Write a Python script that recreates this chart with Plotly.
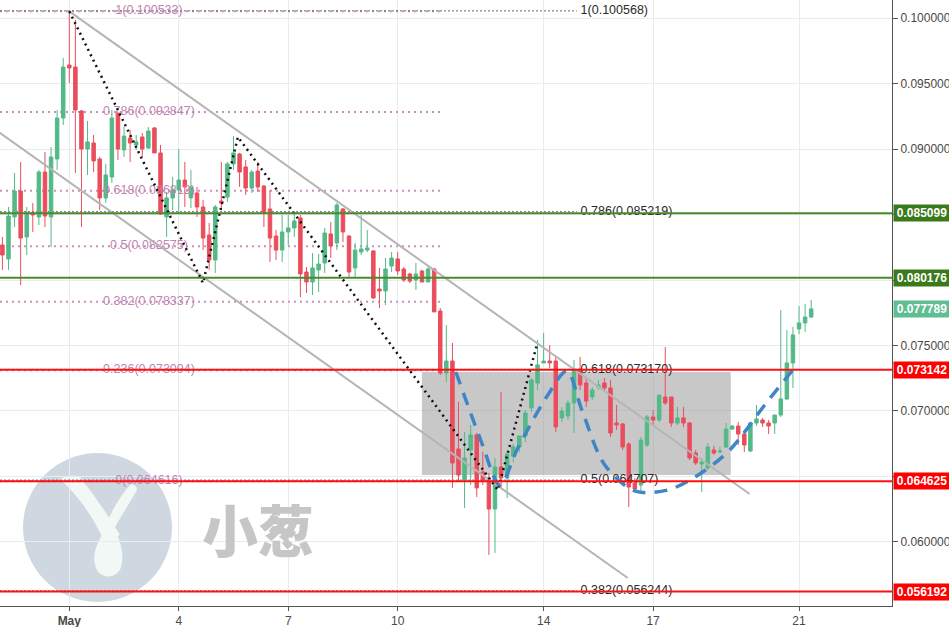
import plotly.graph_objects as go
import pandas as pd

# ---------------- candle data (4h candles) ----------------
first_candle = "2018-04-29 04:00"
opens = [0.08268, 0.08161, 0.08482, 0.08680, 0.08329, 0.08512, 0.08482, 0.08825, 0.08482, 0.08925,
         0.09238, 0.09643, 0.09628, 0.09292, 0.09001, 0.09047, 0.08925, 0.08627, 0.08787, 0.09276,
         0.08994, 0.09085, 0.09032, 0.09093, 0.09009, 0.09162, 0.08971, 0.08482, 0.08627, 0.08688,
         0.08764, 0.08627, 0.08665, 0.08558, 0.08344, 0.08153, 0.08604, 0.08634, 0.08887, 0.08963,
         0.08864, 0.08703, 0.08833, 0.08718, 0.08543, 0.08336, 0.08229, 0.08367, 0.08398, 0.08474,
         0.08061, 0.07985, 0.08077, 0.08130, 0.08352, 0.08283, 0.08543, 0.08336, 0.08092, 0.08214,
         0.08229, 0.08222, 0.07931, 0.07916, 0.08107, 0.08161, 0.08084, 0.08046, 0.08000, 0.08069,
         0.07985, 0.08084, 0.07763, 0.07289, 0.07381, 0.06709, 0.06472, 0.06701, 0.06816, 0.06533,
         0.06487, 0.06250, 0.06571, 0.06487, 0.06655, 0.06724, 0.06808, 0.07022, 0.07213, 0.07366,
         0.07381, 0.07381, 0.06946, 0.06961, 0.07060, 0.07320, 0.07213, 0.07106, 0.07182, 0.07213,
         0.07175, 0.06907, 0.06900, 0.06747, 0.06449, 0.06433, 0.06739, 0.06953, 0.06930, 0.07106,
         0.07106, 0.06907, 0.06946, 0.06907, 0.06678, 0.06594, 0.06563, 0.06701, 0.06686, 0.06724,
         0.06861, 0.06884, 0.06823, 0.06693, 0.06907, 0.06930, 0.06907, 0.06907, 0.06968, 0.07091,
         0.07366, 0.07626, 0.07672, 0.07717]
highs = [0.08329, 0.08558, 0.08818, 0.08902, 0.08558, 0.08589, 0.08841, 0.08978, 0.09016, 0.09299,
         0.09697, 0.10053, 0.09987, 0.09299, 0.09215, 0.09108, 0.08940, 0.08887, 0.09299, 0.09276,
         0.09169, 0.09146, 0.09108, 0.09123, 0.09169, 0.09169, 0.09032, 0.08673, 0.08787, 0.09001,
         0.08902, 0.08841, 0.08711, 0.08611, 0.08436, 0.08573, 0.08902, 0.08902, 0.09100, 0.08971,
         0.08917, 0.08841, 0.08902, 0.08726, 0.08688, 0.08382, 0.08497, 0.08497, 0.08512, 0.08497,
         0.08099, 0.08206, 0.08199, 0.08398, 0.08443, 0.08589, 0.08550, 0.08344, 0.08283, 0.08497,
         0.08382, 0.08229, 0.08092, 0.08168, 0.08214, 0.08214, 0.08099, 0.08054, 0.08130, 0.08077,
         0.08099, 0.08092, 0.07786, 0.07656, 0.07519, 0.07068, 0.06838, 0.06892, 0.06831, 0.06686,
         0.06525, 0.06640, 0.07144, 0.06686, 0.06747, 0.06808, 0.07007, 0.07251, 0.07542, 0.07595,
         0.07503, 0.07412, 0.07030, 0.07083, 0.07389, 0.07412, 0.07259, 0.07182, 0.07236, 0.07251,
         0.07236, 0.07045, 0.06907, 0.06762, 0.06487, 0.06800, 0.06968, 0.07007, 0.07121, 0.07488,
         0.07106, 0.07030, 0.07030, 0.06915, 0.06701, 0.06640, 0.06754, 0.06731, 0.06724, 0.06907,
         0.06892, 0.06915, 0.06838, 0.06915, 0.07045, 0.06946, 0.06930, 0.06968, 0.07771, 0.07618,
         0.07641, 0.07801, 0.07817, 0.07847]
lows = [0.08077, 0.08077, 0.08405, 0.07962, 0.08191, 0.08367, 0.08420, 0.08405, 0.08252, 0.08841,
        0.09185, 0.09506, 0.08818, 0.08405, 0.08803, 0.08825, 0.08535, 0.08589, 0.08741, 0.08917,
        0.08940, 0.08902, 0.08994, 0.08940, 0.09001, 0.08971, 0.08497, 0.08329, 0.08535, 0.08512,
        0.08558, 0.08550, 0.08482, 0.08229, 0.08077, 0.08054, 0.08535, 0.08596, 0.08841, 0.08711,
        0.08650, 0.08665, 0.08673, 0.08405, 0.08138, 0.08153, 0.08138, 0.08268, 0.08329, 0.07870,
        0.07901, 0.07885, 0.07908, 0.08054, 0.08168, 0.08229, 0.08290, 0.08023, 0.08015, 0.08191,
        0.08214, 0.07855, 0.07786, 0.07809, 0.08061, 0.08038, 0.07985, 0.07977, 0.07924, 0.07985,
        0.07985, 0.07756, 0.07274, 0.07221, 0.06411, 0.06456, 0.06258, 0.06433, 0.06342, 0.06433,
        0.05899, 0.05914, 0.06411, 0.06334, 0.06609, 0.06686, 0.06762, 0.06991, 0.07159, 0.07366,
        0.07328, 0.06838, 0.06915, 0.06930, 0.06831, 0.07159, 0.07030, 0.07083, 0.07159, 0.07144,
        0.06800, 0.06854, 0.06701, 0.06265, 0.06395, 0.06380, 0.06724, 0.06892, 0.06915, 0.07045,
        0.06877, 0.06892, 0.06877, 0.06625, 0.06586, 0.06380, 0.06548, 0.06663, 0.06678, 0.06716,
        0.06854, 0.06739, 0.06686, 0.06686, 0.06884, 0.06877, 0.06823, 0.06823, 0.06953, 0.07083,
        0.07175, 0.07587, 0.07603, 0.07710]
closes = [0.08191, 0.08489, 0.08680, 0.08321, 0.08512, 0.08497, 0.08825, 0.08489, 0.08940, 0.09238,
          0.09628, 0.09620, 0.09299, 0.09001, 0.09055, 0.08910, 0.08627, 0.08803, 0.09238, 0.09001,
          0.09100, 0.09047, 0.09055, 0.09001, 0.09139, 0.08971, 0.08504, 0.08627, 0.08688, 0.08764,
          0.08711, 0.08711, 0.08558, 0.08321, 0.08153, 0.08558, 0.08589, 0.08887, 0.08971, 0.08825,
          0.08703, 0.08825, 0.08711, 0.08512, 0.08321, 0.08229, 0.08367, 0.08398, 0.08451, 0.08046,
          0.07985, 0.08092, 0.08122, 0.08359, 0.08260, 0.08573, 0.08367, 0.08061, 0.08229, 0.08237,
          0.08245, 0.07863, 0.07916, 0.08084, 0.08168, 0.08069, 0.08000, 0.07992, 0.08046, 0.07985,
          0.08084, 0.07756, 0.07289, 0.07381, 0.06602, 0.06510, 0.06640, 0.06816, 0.06411, 0.06472,
          0.06250, 0.06571, 0.06487, 0.06670, 0.06724, 0.06808, 0.06984, 0.07236, 0.07351, 0.07381,
          0.07366, 0.06877, 0.06999, 0.07060, 0.07320, 0.07198, 0.07075, 0.07159, 0.07198, 0.07175,
          0.06831, 0.06892, 0.06724, 0.06418, 0.06403, 0.06777, 0.06953, 0.06930, 0.07121, 0.07060,
          0.06907, 0.06946, 0.06907, 0.06640, 0.06602, 0.06609, 0.06724, 0.06678, 0.06693, 0.06861,
          0.06884, 0.06823, 0.06739, 0.06907, 0.06938, 0.06907, 0.06884, 0.06968, 0.07091, 0.07366,
          0.07580, 0.07672, 0.07717, 0.07779]
times = pd.date_range(first_candle, periods=len(opens), freq="4h")

# ---------------- levels / drawings ----------------
green_levels = [0.085099, 0.080176]
red_levels = [0.073142, 0.064625, 0.056192]
last_price = 0.077789

fib_a_ratios = ["1", "0.786", "0.618", "0.5", "0.382", "0.236", "0"]
fib_a_prices = [0.100533, 0.092847, 0.086813, 0.082575, 0.078337, 0.073094, 0.064616]
fib_a_end = "2018-05-11 05:40"
fib_a_label_x = "2018-05-03 04:25"

fib_b_ratios = ["1", "0.786", "0.618", "0.5", "0.382"]
fib_b_prices = [0.100568, 0.085219, 0.073170, 0.064707, 0.056244]
fib_b_end = "2018-05-14 21:50"
fib_b_label_x = "2018-05-15 00:20"

channel_upper_x = ["2018-05-01 00:00", "2018-05-19 15:30"]
channel_upper_y = [0.100533, 0.06365]
channel_lower_x = ["2018-04-28 20:00", "2018-05-16 07:20"]
channel_lower_y = [0.09176, 0.05723]

zigzag_x = ["2018-05-01 00:00", "2018-05-04 15:55", "2018-05-05 14:55", "2018-05-12 17:53", "2018-05-13 19:32"]
zigzag_y = [0.100533, 0.07977, 0.09093, 0.06395, 0.07503]

wave_x = ["2018-05-11 14:17", "2018-05-12 07:22", "2018-05-12 19:12", "2018-05-13 07:02",
          "2018-05-14 02:46", "2018-05-14 15:16", "2018-05-15 01:07", "2018-05-15 16:15",
          "2018-05-16 11:58", "2018-05-17 09:40", "2018-05-18 06:42", "2018-05-19 02:25",
          "2018-05-20 01:26", "2018-05-20 19:51"]
wave_y = [0.07297, 0.06754, 0.06433, 0.06716, 0.07121, 0.07305, 0.07007, 0.06586,
          0.06388, 0.06395, 0.06518, 0.06701, 0.07045, 0.07312]

zone_x = ["2018-05-10 15:55", "2018-05-19 03:06"]
zone_y = [0.06510, 0.07297]

x_range = ["2018-04-29 02:25", "2018-05-23 13:09"]
y_range = [0.055087, 0.101398]
tick_dates = ["2018-05-01", "2018-05-04", "2018-05-07", "2018-05-10", "2018-05-14", "2018-05-17", "2018-05-21"]
tick_text = ["<b>May</b>", "4", "7", "10", "14", "17", "21"]
price_ticks = [0.060, 0.065, 0.070, 0.075, 0.080, 0.085, 0.090, 0.095, 0.100]
price_tick_text = ["0.060000", "", "0.070000", "0.075000", "", "", "0.090000", "0.095000", "0.100000"]

# ---------------- styling ----------------
UP = "#53b987"
DOWN = "#eb4d5c"
FONT = "Liberation Sans, Arial, sans-serif"
W, H = 949, 627
ML, MR, MT, MB = 0, 57, 0, 21
PW, PH = W - ML - MR, H - MT - MB


def pp(x, y):
    """decoration pixel position -> paper coords string"""
    return f"{x / PW:.5f},{1 - y / PH:.5f}"


fig = go.Figure()

# fib labels (drawn under candles)
fig.add_trace(go.Scatter(
    x=[fib_a_label_x] * len(fib_a_prices), y=fib_a_prices, mode="text",
    text=[f"{r}({p:.6f})" for r, p in zip(fib_a_ratios, fib_a_prices)],
    textposition="middle center", textfont=dict(color="#c283b2", size=12.5, family=FONT),
    hoverinfo="skip", showlegend=False, cliponaxis=False))
fig.add_trace(go.Scatter(
    x=[fib_b_label_x] * len(fib_b_prices), y=fib_b_prices, mode="text",
    text=[f"{r}({p:.6f})" for r, p in zip(fib_b_ratios, fib_b_prices)],
    textposition="middle right", textfont=dict(color="#2a2a2a", size=12.5, family=FONT),
    hoverinfo="skip", showlegend=False, cliponaxis=False))

fig.add_trace(go.Candlestick(
    x=times, open=opens, high=highs, low=lows, close=closes,
    increasing=dict(line=dict(color=UP, width=1), fillcolor=UP),
    decreasing=dict(line=dict(color=DOWN, width=1), fillcolor=DOWN),
    whiskerwidth=0, showlegend=False, hoverinfo="skip"))

# channel lines
for cx, cy in [(channel_upper_x, channel_upper_y), (channel_lower_x, channel_lower_y)]:
    fig.add_trace(go.Scatter(x=cx, y=cy, mode="lines", line=dict(color="#b5b5b5", width=2),
                             hoverinfo="skip", showlegend=False))
# zigzag dotted
fig.add_trace(go.Scatter(x=zigzag_x, y=zigzag_y, mode="lines",
                         line=dict(color="#111111", width=2.5, dash="2px,4px"),
                         hoverinfo="skip", showlegend=False))
# blue wave
fig.add_trace(go.Scatter(x=wave_x, y=wave_y, mode="lines",
                         line=dict(color="#3f86c8", width=3.5, dash="13px,9px", shape="spline", smoothing=0.9),
                         hoverinfo="skip", showlegend=False))

shapes = []
# watermark circle + sprout
shapes.append(dict(type="circle", xref="paper", yref="paper",
                   x0=23 / PW, x1=172 / PW, y0=1 - 602 / PH, y1=1 - 453 / PH,
                   fillcolor="#cfd8e1", line=dict(width=0), layer="below"))
sprout = [
    f"M {pp(60,479)} Q {pp(70,473)} {pp(80,477)} Q {pp(102,505)} {pp(120,535)} L {pp(104,541)} Q {pp(88,505)} {pp(60,479)} Z",
    f"M {pp(131,484)} Q {pp(139,486)} {pp(136,492)} Q {pp(122,515)} {pp(112,532)} L {pp(105,527)} Q {pp(116,500)} {pp(131,484)} Z",
    f"M {pp(104,532)} Q {pp(88,556)} {pp(98,572)} Q {pp(110,582)} {pp(120,570)} Q {pp(126,556)} {pp(117,534)} Z",
]
for pth in sprout:
    shapes.append(dict(type="path", xref="paper", yref="paper", path=pth,
                       fillcolor="#f2f8f5", line=dict(width=0), layer="below"))

# grey zone
shapes.append(dict(type="rect", xref="x", yref="y", x0=zone_x[0], x1=zone_x[1], y0=zone_y[0], y1=zone_y[1],
                   fillcolor="rgba(150,150,150,0.52)", line=dict(width=0), layer="between"))
# fib lines
for p in fib_a_prices:
    shapes.append(dict(type="line", xref="x", yref="y", x0=x_range[0], x1=fib_a_end, y0=p, y1=p,
                       line=dict(color="#c993bd", width=2, dash="2px,4px"), layer="between"))
for p in fib_b_prices:
    shapes.append(dict(type="line", xref="x", yref="y", x0=x_range[0], x1=fib_b_end, y0=p, y1=p,
                       line=dict(color="#666666", width=1, dash="2px,2px"), layer="between"))
# horizontal support/resistance lines
for p in green_levels:
    shapes.append(dict(type="line", xref="paper", yref="y", x0=0, x1=1, y0=p, y1=p,
                       line=dict(color="#4a8a2a", width=2), layer="above"))
for p in red_levels:
    shapes.append(dict(type="line", xref="paper", yref="y", x0=0, x1=1, y0=p, y1=p,
                       line=dict(color="#ff1010", width=2), layer="above"))

annotations = []
for p in green_levels:
    annotations.append((p, "#3b7a1b"))
annotations.append((last_price, "#5fbe92"))
for p in red_levels:
    annotations.append((p, "#ff0000"))
ann = [dict(xref="paper", yref="y", x=1, y=p, xanchor="left", yanchor="middle", xshift=1,
            text=f"<b>{p:.6f}</b>", showarrow=False, bgcolor=c, borderpad=1, width=54, align="center",
            font=dict(color="white", size=12, family=FONT)) for p, c in annotations]
ann.append(dict(xref="paper", yref="paper", x=258 / PW, y=1 - 527 / PH, xanchor="center", yanchor="middle",
                text="小葱", showarrow=False,
                font=dict(family="Noto Sans CJK SC", size=56, color="#c6c6c6", weight=900)))

fig.update_layout(
    width=W, height=H, margin=dict(l=ML, r=MR, t=MT, b=MB, pad=0),
    paper_bgcolor="white", plot_bgcolor="white",
    boxgap=0.18, showlegend=False, shapes=shapes, annotations=ann,
    font=dict(family=FONT),
    xaxis=dict(type="date", range=x_range, rangeslider=dict(visible=False),
               tickvals=tick_dates, ticktext=tick_text, showgrid=True, gridcolor="#e6edf1", gridwidth=1,
               showline=True, linecolor="#555555", linewidth=1, ticks="outside", ticklen=4,
               tickcolor="#555555", tickfont=dict(size=12, color="#4a4a4a", family=FONT),
               zeroline=False, automargin=False, fixedrange=True),
    yaxis=dict(side="right", range=y_range, tickvals=price_ticks, ticktext=price_tick_text,
               showgrid=True, gridcolor="#e6edf1", gridwidth=1, showline=True, linecolor="#555555",
               linewidth=1, ticks="outside", ticklen=5, tickcolor="#555555",
               tickfont=dict(size=12, color="#4a4a4a", family=FONT), zeroline=False,
               automargin=False, fixedrange=True),
)

fig.write_html("out.html")
